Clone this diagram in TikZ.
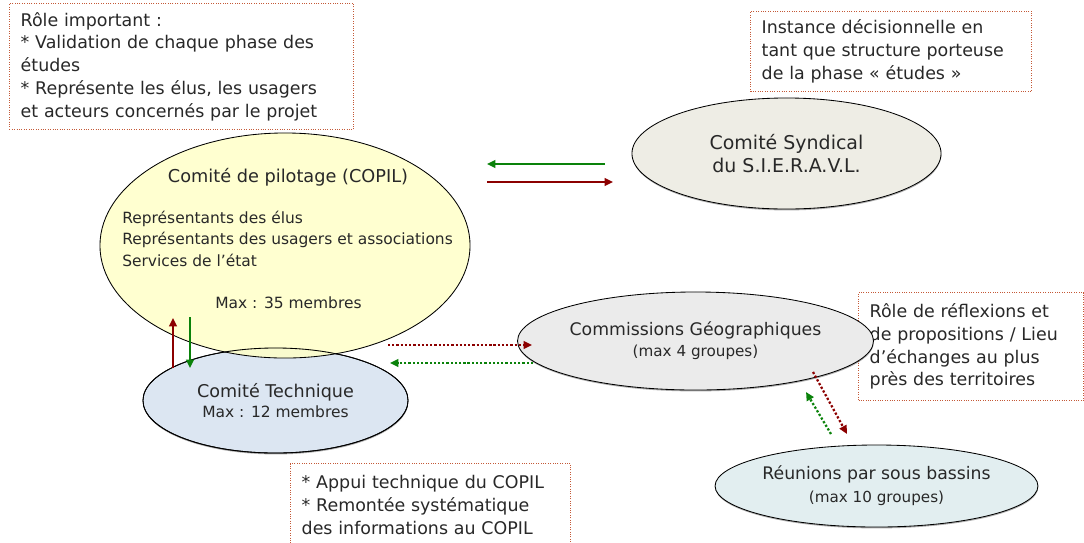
\documentclass[tikz,border=0pt]{standalone}
\usepackage{fontspec}
\setmainfont{DejaVu Sans}
\usetikzlibrary{shapes.geometric}
\usetikzlibrary{arrows.meta}
\usetikzlibrary{shadows}
\usepackage{xcolor}
\definecolor{noteline}{RGB}{196,89,55}
\definecolor{darkred}{RGB}{140,0,0}
\definecolor{darkgreen}{RGB}{10,130,10}
\definecolor{txt}{RGB}{40,40,40}
\definecolor{copilfill}{RGB}{255,255,200}
\definecolor{syndfill}{RGB}{238,237,229}
\definecolor{cotechfill}{RGB}{220,230,242}
\definecolor{commfill}{RGB}{235,235,235}
\definecolor{reunfill}{RGB}{226,238,240}

\tikzset{
    note/.style={draw=noteline, densely dotted, line width=0.7pt, fill=white, anchor=north west, align=left, inner xsep=0.28cm, inner ysep=0pt, text=txt, font=\fontsize{12.4}{16.2}\selectfont},
    bulle/.style={ellipse, draw=black, line width=0.6pt, inner sep=0pt, align=center, text=txt},
    ombre/.style={drop shadow={shadow xshift=0.2pt, shadow yshift=-1pt, fill=black!70, opacity=0.45}},
    fleche/.style={line width=1.4pt, -{Triangle[length=6pt,width=5.5pt]}},
    pointille/.style={line width=1.6pt, dash pattern=on 1.6pt off 1.4pt, -{Triangle[length=6pt,width=5.5pt]}},
}

\begin{document}
\begin{tikzpicture}[x=0.025cm, y=-0.025cm]
    \useasboundingbox (0,0) rectangle (1084,542);
    \clip (0,0) rectangle (1084,542);
    \node[note, text width=8.04cm, minimum height=3.15cm] at (9,3) (Role) {Rôle important :\\{*} Validation de chaque phase des\\études\\{*} Représente les élus, les usagers\\et acteurs concernés par le projet};
    \node[note, text width=6.465cm, minimum height=2cm] at (750,11) (Instance) {Instance décisionnelle en\\tant que structure porteuse\\de la phase « études »};
    \node[note, text width=5.065cm, minimum height=2.7cm] at (858,292) (Reflexion) {Rôle de réflexions et\\de propositions / Lieu\\d’échanges au plus\\près des territoires};
    \node[note, text width=6.44cm, minimum height=2.075cm] at (290,463) (Appui) {{*} Appui technique du COPIL\\{*} Remontée systématique\\des informations au COPIL};
    \node[bulle, ombre, fill=syndfill, minimum width=7.725cm, minimum height=2.775cm, font=\fontsize{13.5}{17}\selectfont] at (786.5,153.5) (Syndical) {Comité Syndical\\du S.I.E.R.A.V.L.};
    \node[bulle, ombre, fill=cotechfill, minimum width=6.625cm, minimum height=2.625cm, font=\fontsize{11}{14.2}\selectfont] at (275.5,400.5) (Cotech) {{\fontsize{12.5}{14.2}\selectfont Comité Technique}\\Max : 12 membres};
    \node[bulle, fill=copilfill, fill opacity=0.85, minimum width=9.25cm, minimum height=5.625cm] at (285,245.5) (Copil) {};
    \draw[line width=0.6pt] (Cotech.center) ellipse (3.3125cm and 1.3125cm);
    \node[text=txt, font=\fontsize{12.6}{15}\selectfont] at (288,177) (CopilTitre) {Comité de pilotage (COPIL)};
    \node[text=txt, anchor=west, align=left, inner sep=0pt, font=\fontsize{11}{15.3}\selectfont] at (122,238.5) (CopilListe) {Représentants des élus\\Représentants des usagers et associations\\Services de l’état};
    \node[text=txt, font=\fontsize{11}{13}\selectfont] at (288.5,303) (CopilMax) {Max : 35 membres};
    \node[bulle, ombre, fill=commfill, minimum width=7.675cm, minimum height=2.45cm, font=\fontsize{10.8}{14.9}\selectfont] at (695.5,341) (Comm) {{\fontsize{12.3}{14.9}\selectfont Commissions Géographiques}\\(max 4 groupes)};
    \node[bulle, ombre, fill=reunfill, minimum width=7.675cm, minimum height=2.05cm, font=\fontsize{10.8}{16.4}\selectfont] at (876.5,486) (Reunions) {{\fontsize{12.3}{16.4}\selectfont Réunions par sous bassins}\\(max 10 groupes)};
    \coordinate (SyndG) at (605,164);
    \coordinate (CopilG) at (487,164);
    \coordinate (CopilR) at (487,182);
    \coordinate (SyndR) at (613,182);
    \coordinate (CotechR) at (173,368);
    \coordinate (CopilRv) at (173,318);
    \coordinate (CopilGv) at (190,317);
    \coordinate (CotechG) at (190,368);
    \coordinate (CopilRh) at (388,345);
    \coordinate (CommR) at (532,345);
    \coordinate (CommG) at (533,363);
    \coordinate (CopilGh) at (390,363);
    \coordinate (CommRd) at (813,372);
    \coordinate (ReunR) at (847,434);
    \coordinate (ReunG) at (831,434);
    \coordinate (CommGd) at (806,392);
    \draw[fleche, darkgreen] (SyndG) -- (CopilG);
    \draw[fleche, darkred] (CopilR) -- (SyndR);
    \draw[fleche, darkred] (CotechR) -- (CopilRv);
    \draw[fleche, darkgreen] (CopilGv) -- (CotechG);
    \draw[pointille, darkred] (CopilRh) -- (CommR);
    \draw[pointille, darkgreen] (CommG) -- (CopilGh);
    \draw[pointille, darkred] (CommRd) -- (ReunR);
    \draw[pointille, darkgreen] (ReunG) -- (CommGd);
\end{tikzpicture}
\end{document}
